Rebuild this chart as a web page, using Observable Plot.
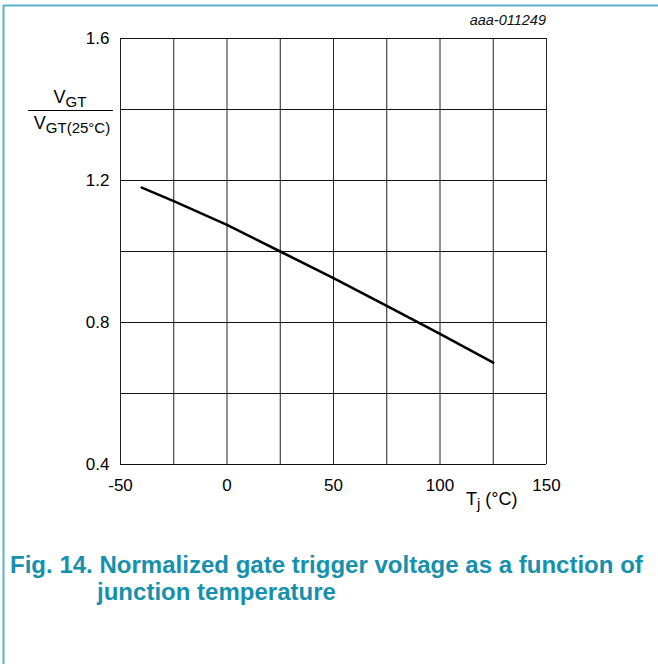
<!DOCTYPE html>
<html>
<head>
<meta charset="utf-8">
<script src="https://cdn.jsdelivr.net/npm/d3@7"></script>
<script src="https://cdn.jsdelivr.net/npm/@observablehq/plot@0.6"></script>
<style>
  html, body { margin: 0; padding: 0; background: #fff; }
  #chart { position: relative; width: 658px; height: 664px; overflow: hidden; }
  svg { display: block; }
</style>
</head>
<body>
<div id="chart"></div>
<script>
// Data
const tempC = [-40, -25, 0, 25, 50, 75, 100, 125];
const vgtRatio = [1.18, 1.142, 1.075, 1.0, 0.925, 0.847, 0.768, 0.687];
const xTickLabels = [-50, 0, 50, 100, 150];
const xGrid = [-50, -25, 0, 25, 50, 75, 100, 125, 150];
const yTickLabels = [0.4, 0.8, 1.2, 1.6];
const yGrid = [0.4, 0.6, 0.8, 1.0, 1.2, 1.4, 1.6];
const figId = "aaa-011249";
const captionLines = ["Fig. 14. Normalized gate trigger voltage as a function of", "junction temperature"];

const data = tempC.map((t, i) => ({t, v: vgtRatio[i]}));

const W = 658, H = 664;
const plot = Plot.plot({
  width: W,
  height: H,
  marginLeft: 120,
  marginRight: 112,
  marginTop: 38,
  marginBottom: 200,
  style: {fontFamily: "'Liberation Sans', Arial, sans-serif", fontSize: "17px", color: "#000", background: "#fff"},
  x: {domain: [-50, 150], label: null},
  y: {domain: [0.4, 1.6], label: null},
  marks: [
    Plot.ruleX(xGrid, {stroke: "#222", strokeWidth: 1, strokeOpacity: 1}),
    Plot.ruleY(yGrid, {stroke: "#111", strokeWidth: 1, strokeOpacity: 1}),
    Plot.axisX(xTickLabels, {tickSize: 0, tickPadding: 14, tickFormat: d => String(d), fontSize: 17, label: null}),
    Plot.axisY(yTickLabels, {tickSize: 0, tickPadding: 11, tickFormat: d => d.toFixed(1), fontSize: 17, label: null}),
    Plot.line(data, {x: "t", y: "v", stroke: "#000", strokeWidth: 2.6})
  ]
});
document.getElementById("chart").appendChild(plot);

const svg = d3.select(plot);
const font = "'Liberation Sans', Arial, sans-serif";

// Outer frame (top and left edges)
svg.append("line").attr("x1", 3).attr("x2", W).attr("y1", 5.5).attr("y2", 5.5)
  .attr("stroke", "#5bb2c8").attr("stroke-width", 2);
svg.append("line").attr("x1", 3.5).attr("x2", 3.5).attr("y1", 5).attr("y2", H)
  .attr("stroke", "#5bb2c8").attr("stroke-width", 2);

// Figure id
svg.append("text").attr("x", 546).attr("y", 25).attr("text-anchor", "end")
  .attr("font-family", font).attr("font-style", "italic").attr("font-size", 14.5)
  .attr("fill", "#111").text(figId);

// Y label as a fraction
const num = svg.append("text").attr("x", 70).attr("y", 103).attr("text-anchor", "middle")
  .attr("font-family", font).attr("font-size", 18).attr("fill", "#000");
num.append("tspan").text("V");
num.append("tspan").attr("font-size", 15).attr("dy", 4).text("GT");
svg.append("line").attr("x1", 28).attr("x2", 113).attr("y1", 110.5).attr("y2", 110.5)
  .attr("stroke", "#000").attr("stroke-width", 1);
const den = svg.append("text").attr("x", 72).attr("y", 129).attr("text-anchor", "middle")
  .attr("font-family", font).attr("font-size", 18).attr("fill", "#000");
den.append("tspan").text("V");
den.append("tspan").attr("font-size", 15).attr("dy", 4).text("GT(25°C)");

// X label
const xl = svg.append("text").attr("x", 466).attr("y", 505).attr("text-anchor", "start")
  .attr("font-family", font).attr("font-size", 18).attr("fill", "#000");
xl.append("tspan").text("T");
xl.append("tspan").attr("font-size", 15).attr("dy", 4).text("j");
xl.append("tspan").attr("dy", -4).text(" (°C)");

// Caption
const g = svg.append("g").attr("text-anchor", "start");
const c1 = g.append("text").attr("x", 0).attr("y", 573).attr("text-anchor", "start")
  .attr("font-family", font).attr("font-weight", "bold").attr("font-size", 23)
  .attr("fill", "#1590ad").text(captionLines[0]);
const c2 = g.append("text").attr("y", 600).attr("text-anchor", "start")
  .attr("font-family", font).attr("font-weight", "bold").attr("font-size", 23)
  .attr("fill", "#1590ad").text(captionLines[1]);
const len = c1.node().getComputedTextLength();
const ratio = len > 0 ? 633 / len : 1;
g.attr("transform", `translate(10,0) scale(${ratio},1)`);
c2.attr("x", (97 - 10) / ratio);
</script>
</body>
</html>
